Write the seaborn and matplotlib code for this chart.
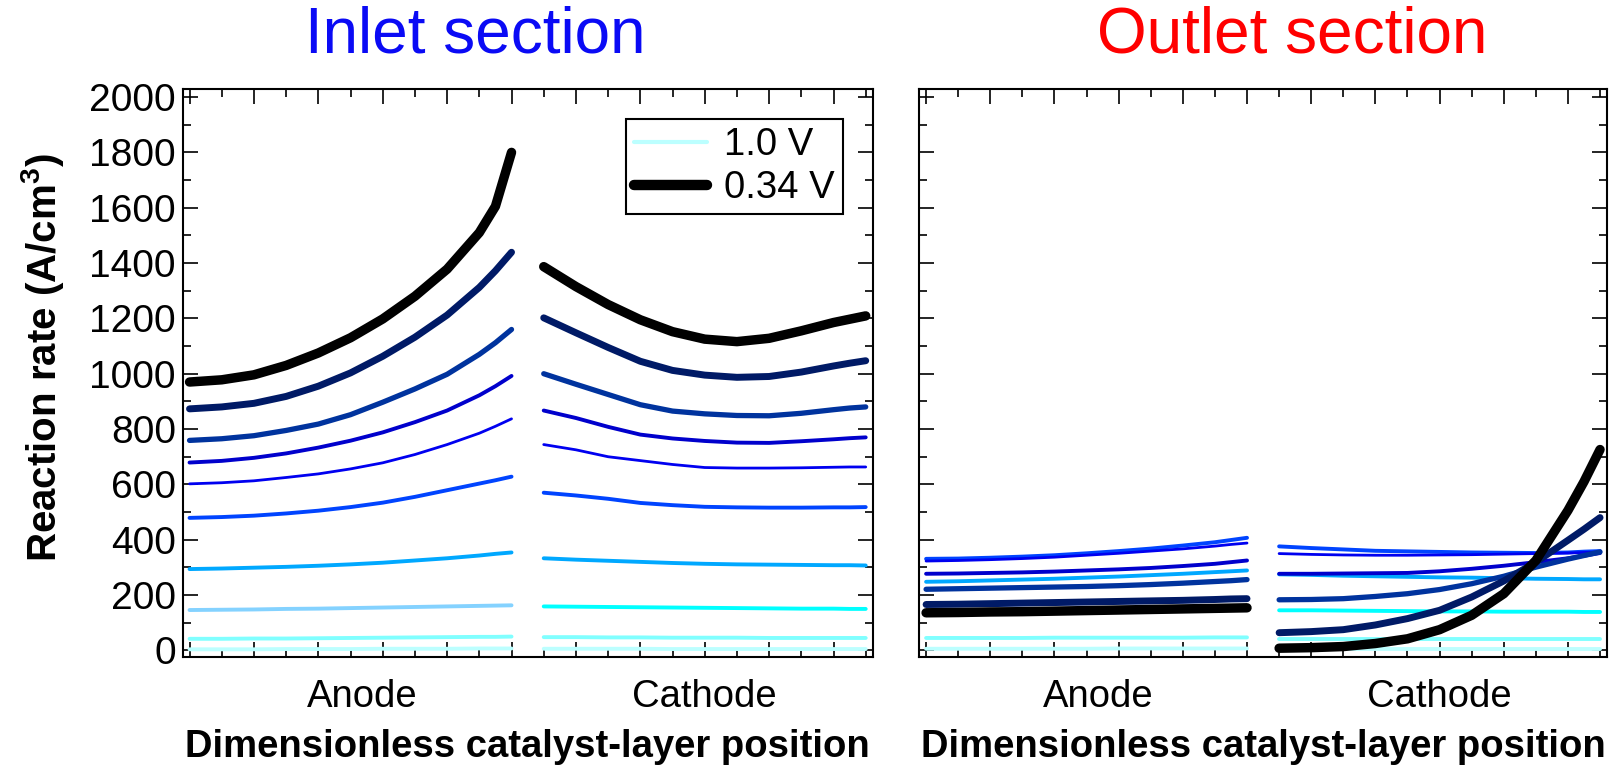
import matplotlib

matplotlib.use("Agg")
import matplotlib.pyplot as plt
import seaborn as sns
from matplotlib.lines import Line2D
from matplotlib.ticker import MultipleLocator
from matplotlib.transforms import blended_transform_factory


# dimensionless positions: anode 0..1, cathode 1.1..2.1
X_ANODE = [0.0, 0.1, 0.2, 0.3, 0.4, 0.5, 0.6, 0.7, 0.8, 0.9, 0.95, 1.0]
X_CATHODE = [1.1, 1.2, 1.3, 1.4, 1.5, 1.6, 1.7, 1.8, 1.9, 2.0, 2.05, 2.1]

LEGEND_LABELS = ["1.0 V", "0.34 V"]

# reaction rate (A/cm3), one row per cell voltage, from 1.0 V down to 0.34 V
INLET_ANODE = [
    [4, 4, 4, 5, 5, 5, 6, 6, 6, 7, 7, 7],
    [42, 42, 43, 43, 44, 45, 46, 47, 48, 49, 49, 50],
    [146, 147, 148, 150, 151, 153, 155, 157, 159, 161, 162, 163],
    [294, 296, 299, 302, 306, 311, 317, 325, 333, 343, 349, 354],
    [479, 482, 487, 495, 505, 518, 534, 555, 579, 603, 615, 628],
    [602, 606, 613, 625, 638, 656, 678, 708, 744, 785, 810, 837],
    [679, 685, 696, 712, 733, 758, 788, 825, 867, 922, 955, 992],
    [759, 765, 776, 795, 818, 852, 897, 945, 998, 1070, 1112, 1160],
    [873, 880, 893, 918, 955, 1003, 1063, 1132, 1212, 1312, 1372, 1439],
    [970, 978, 996, 1030, 1075, 1130, 1198, 1280, 1378, 1510, 1605, 1800],
]
INLET_CATHODE = [
    [6, 6, 6, 6, 5, 5, 5, 5, 5, 5, 5, 5],
    [48, 48, 47, 47, 46, 46, 46, 45, 45, 45, 45, 45],
    [159, 158, 157, 156, 155, 154, 153, 152, 151, 151, 150, 150],
    [333, 328, 324, 320, 316, 313, 311, 310, 309, 308, 308, 307],
    [570, 560, 548, 533, 525, 519, 517, 516, 516, 517, 517, 518],
    [744, 725, 700, 686, 672, 661, 659, 659, 660, 662, 663, 663],
    [867, 840, 808, 780, 766, 757, 751, 750, 756, 763, 767, 770],
    [1000, 962, 925, 888, 865, 855, 849, 848, 857, 870, 876, 880],
    [1202, 1148, 1095, 1045, 1012, 995, 987, 990, 1006, 1028, 1038, 1047],
    [1387, 1315, 1250, 1195, 1152, 1125, 1116, 1128, 1155, 1185, 1197, 1209],
]
OUTLET_ANODE = [
    [6, 6, 6, 6, 6, 6, 7, 7, 7, 7, 7, 7],
    [45, 45, 45, 45, 46, 46, 46, 46, 46, 47, 47, 47],
    [140, 141, 141, 142, 143, 144, 145, 146, 147, 147, 148, 148],
    [248, 250, 253, 256, 259, 263, 267, 272, 277, 283, 286, 289],
    [331, 332, 335, 339, 344, 351, 359, 368, 379, 391, 399, 407],
    [323, 325, 328, 332, 337, 344, 351, 359, 367, 377, 383, 388],
    [277, 278, 280, 282, 285, 289, 293, 298, 305, 313, 319, 325],
    [221, 223, 225, 227, 229, 231, 234, 238, 243, 249, 252, 256],
    [166, 167, 169, 171, 173, 175, 177, 179, 181, 184, 186, 187],
    [136, 137, 139, 140, 142, 144, 146, 148, 150, 152, 153, 154],
]
OUTLET_CATHODE = [
    [5, 5, 5, 5, 5, 5, 5, 5, 5, 5, 5, 5],
    [43, 43, 43, 43, 43, 43, 43, 43, 43, 43, 43, 43],
    [145, 145, 144, 143, 142, 141, 141, 140, 140, 140, 139, 139],
    [275, 273, 270, 268, 266, 264, 263, 261, 259, 258, 257, 257],
    [376, 370, 365, 360, 358, 356, 354, 353, 352, 354, 357, 359],
    [350, 347, 345, 344, 344, 345, 346, 348, 350, 352, 354, 356],
    [277, 277, 278, 279, 280, 286, 295, 306, 319, 333, 342, 352],
    [183, 184, 187, 195, 205, 220, 241, 268, 301, 330, 343, 356],
    [64, 68, 75, 92, 115, 145, 193, 251, 319, 398, 438, 480],
    [8, 10, 14, 25, 42, 75, 127, 205, 325, 506, 610, 726],
]

CURVE_COLORS = ["#BCFFFF", "#80FFFF", "#00FFFF", "#00A8FF", "#0044FF",
                "#0000F0", "#0000CC", "#00339E", "#001A66", "#000000"]
CURVE_WIDTHS = [2.8, 2.8, 2.8, 2.8, 2.8, 2.0, 2.8, 3.8, 5.0, 6.8]
# the third inlet anode trace is drawn in a paler sky blue in the original
INLET_ANODE_OVERRIDE = {2: "#84D2FF"}

FONT = ["Liberation Sans", "DejaVu Sans"]


def draw_panel(ax, anode, cathode, anode_override=None, show_ylabels=True):
    anode_override = anode_override or {}
    for i in range(len(anode)):
        for x, y, seg in ((X_ANODE, anode[i], "anode"), (X_CATHODE, cathode[i], "cathode")):
            color = CURVE_COLORS[i]
            if seg == "anode" and i in anode_override:
                color = anode_override[i]
            sns.lineplot(x=x, y=y, ax=ax, color=color, linewidth=CURVE_WIDTHS[i],
                         sort=False, estimator=None, solid_capstyle="round",
                         solid_joinstyle="round")

    ax.set_xlim(-0.021, 2.122)
    ax.set_ylim(-22, 2028)
    ax.xaxis.set_major_locator(MultipleLocator(0.2))
    ax.xaxis.set_minor_locator(MultipleLocator(0.1))
    ax.yaxis.set_major_locator(MultipleLocator(200))
    ax.yaxis.set_minor_locator(MultipleLocator(100))
    ax.tick_params(which="both", direction="in", top=True, right=True, colors="black",
                   labelbottom=False, labelleft=show_ylabels, labelsize=28, width=1.2)
    ax.tick_params(which="major", length=11, pad=5)
    ax.tick_params(which="minor", length=5.5)
    for spine in ax.spines.values():
        spine.set_linewidth(1.5)
        spine.set_color("black")
    ax.set_xlabel("")
    ax.set_ylabel("")

    trans = blended_transform_factory(ax.transData, ax.transAxes)
    ax.text(0.535, -0.072, "Anode", transform=trans, ha="center", va="center", fontsize=27.5)
    ax.text(1.6, -0.072, "Cathode", transform=trans, ha="center", va="center", fontsize=27.5)
    ax.text(0.5, -0.16, "Dimensionless catalyst-layer position", transform=ax.transAxes,
            ha="center", va="center", fontsize=27.5, fontweight="bold")


sns.set_style("ticks", {"axes.edgecolor": "black", "text.color": "black",
                        "xtick.color": "black", "ytick.color": "black",
                        "axes.labelcolor": "black"})
plt.rcParams["font.family"] = FONT

fig = plt.figure(figsize=(16.16, 7.71), dpi=100)
ax_in = fig.add_axes([0.1131, 0.1485, 0.4270, 0.7357])
ax_out = fig.add_axes([0.5689, 0.1485, 0.4256, 0.7357])

draw_panel(ax_in, INLET_ANODE, INLET_CATHODE, INLET_ANODE_OVERRIDE)
draw_panel(ax_out, OUTLET_ANODE, OUTLET_CATHODE, show_ylabels=False)

handles = [
    Line2D([], [], color=CURVE_COLORS[0], linewidth=3.0, solid_capstyle="round"),
    Line2D([], [], color=CURVE_COLORS[-1], linewidth=7.5, solid_capstyle="round"),
]
leg = ax_in.legend(handles, LEGEND_LABELS, loc="upper right", bbox_to_anchor=(0.957, 0.948),
                   borderaxespad=0, fontsize=27.5, handlelength=1.9, handletextpad=0.45,
                   labelspacing=0.18, borderpad=0.22, fancybox=False, framealpha=1)
leg.get_frame().set_edgecolor("black")
leg.get_frame().set_linewidth(1.5)

fig.text(0.0265, 0.536, "Reaction rate (A/cm$^\\mathregular{3}$)", rotation=90,
         ha="center", va="center", fontsize=29, fontweight="bold")
fig.text(0.294, 0.9545, "Inlet section", color="#0A0AF5", ha="center", va="center", fontsize=46)
fig.text(0.7995, 0.9545, "Outlet section", color="#FF0000", ha="center", va="center", fontsize=46)

fig.savefig("out.png", dpi=100)
